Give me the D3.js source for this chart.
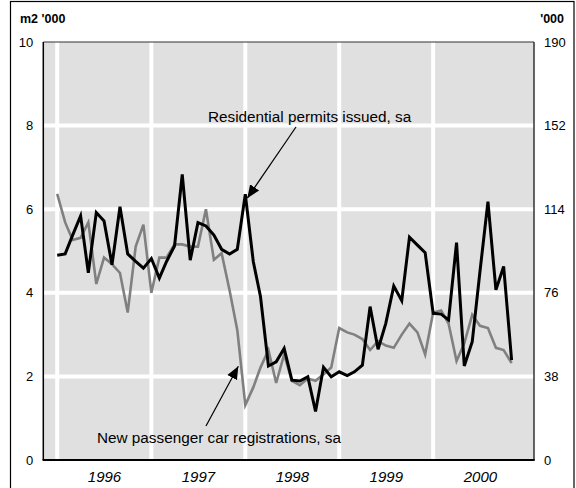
<!DOCTYPE html>
<html>
<head>
<meta charset="utf-8">
<script src="https://cdn.jsdelivr.net/npm/d3@7"></script>
<style>
  html, body { margin: 0; padding: 0; background: #fff; }
  svg { display: block; font-family: "Liberation Sans", Arial, sans-serif; }
</style>
</head>
<body>
<svg id="chart" width="576" height="488"></svg>
<script>
// ---- data ----
const startYear = 1996;           // first observation: January 1996, monthly
const permits = [ // residential permits issued, sa (m2 '000), left axis
  4.90, 4.93, 5.38, 5.84, 4.48, 5.92, 5.72, 4.67, 6.06, 4.93, 4.75, 4.59,
  4.82, 4.35, 4.75, 5.12, 6.83, 4.78, 5.68, 5.60, 5.38, 5.04, 4.93, 5.04,
  6.36, 4.75, 3.91, 2.25, 2.35, 2.67, 1.91, 1.89, 1.99, 1.16, 2.22, 1.99,
  2.11, 2.02, 2.11, 2.27, 3.67, 2.65, 3.27, 4.16, 3.81, 5.33, 5.14, 4.96,
  3.51, 3.49, 3.35, 5.20, 2.25, 2.83, 4.51, 6.18, 4.07, 4.63, 2.39
];
const cars = [ // new passenger car registrations, sa ('000), right axis
  121, 108, 100, 101, 108, 80, 92, 89, 85, 67, 97, 107,
  76, 92, 92, 98, 98, 97, 97, 114, 91, 94, 77, 59,
  25, 33, 42, 50, 35, 48, 36, 34, 37, 36, 39, 42,
  60, 58, 57, 55, 50, 54, 52, 51, 57, 62, 58, 48,
  67, 68, 62, 45, 53, 66, 61, 60, 51, 50, 44
];
const leftTicks = [0, 2, 4, 6, 8, 10];
const rightTicks = [0, 38, 76, 114, 152, 190];
const years = [1996, 1997, 1998, 1999, 2000];
const leftTitle = "m2 '000";
const rightTitle = "'000";
const permitsLabel = "Residential permits issued, sa";
const carsLabel = "New passenger car registrations, sa";

// ---- layout ----
const svg = d3.select("#chart");
const L = 43.3, R = 534, T = 42, B = 460;
const font = "'Liberation Sans', Arial, sans-serif";

const dateOf = i => new Date(startYear, i, 1);
const x = d3.scaleTime()
  .domain([new Date(1995, 10, 8), new Date(2001, 0, 27)])
  .range([L, R]);
const yL = d3.scaleLinear().domain([0, 10]).range([B, T]);
const yR = d3.scaleLinear().domain([0, 190]).range([B, T]);

// outer frame
svg.append("rect").attr("x", 10.5).attr("y", 1.5).attr("width", 563.5).attr("height", 500)
  .attr("fill", "none").attr("stroke", "#000").attr("stroke-width", 1.2);

// plot background
svg.append("rect").attr("x", L).attr("y", T).attr("width", R - L).attr("height", B - T)
  .attr("fill", "#e0e0e0");

// gridlines
svg.append("g").selectAll("line").data(leftTicks.filter(d => d > 0 && d < 10)).join("line")
  .attr("x1", L).attr("x2", R).attr("y1", d => yL(d)).attr("y2", d => yL(d))
  .attr("stroke", "#fff").attr("stroke-width", 4);
svg.append("g").selectAll("line").data(years).join("line")
  .attr("x1", d => x(new Date(d, 0, 1))).attr("x2", d => x(new Date(d, 0, 1)))
  .attr("y1", T).attr("y2", B)
  .attr("stroke", "#fff").attr("stroke-width", 4);

// frame of plot
svg.append("line").attr("x1", L).attr("x2", R).attr("y1", T).attr("y2", T)
  .attr("stroke", "#333").attr("stroke-width", 1.2);
svg.append("line").attr("x1", R).attr("x2", R).attr("y1", T).attr("y2", B)
  .attr("stroke", "#333").attr("stroke-width", 1.5);
svg.append("line").attr("x1", L).attr("x2", L).attr("y1", T).attr("y2", B)
  .attr("stroke", "#000").attr("stroke-width", 1.5);
svg.append("line").attr("x1", L - 0.7).attr("x2", R + 0.7).attr("y1", B).attr("y2", B)
  .attr("stroke", "#000").attr("stroke-width", 2);

// lines
const lineL = d3.line().x((d, i) => x(dateOf(i))).y(d => yL(d));
const lineR = d3.line().x((d, i) => x(dateOf(i))).y(d => yR(d));
svg.append("path").datum(cars).attr("d", lineR)
  .attr("fill", "none").attr("stroke", "#808080").attr("stroke-width", 2.6)
  .attr("stroke-linejoin", "miter");
svg.append("path").datum(permits).attr("d", lineL)
  .attr("fill", "none").attr("stroke", "#000").attr("stroke-width", 3)
  .attr("stroke-linejoin", "miter");

// axes (labels only)
const axL = svg.append("g").attr("transform", `translate(${L},0)`)
  .call(d3.axisLeft(yL).tickValues(leftTicks).tickSize(0).tickPadding(10));
const axR = svg.append("g").attr("transform", `translate(${R},0)`)
  .call(d3.axisRight(yR).tickValues(rightTicks).tickSize(0).tickPadding(10));
const axB = svg.append("g").attr("transform", `translate(0,${B})`)
  .call(d3.axisBottom(x).tickValues(years.map(y => new Date(y, 6, 1)))
    .tickFormat(d3.timeFormat("%Y")).tickSize(0).tickPadding(11));
[axL, axR, axB].forEach(a => {
  a.select(".domain").remove();
  a.selectAll("text").attr("fill", "#000").style("font-family", font);
});
axL.selectAll("text").style("font-size", "13px");
axR.selectAll("text").style("font-size", "13px");
axB.selectAll("text").style("font-size", "15px").style("font-style", "italic");

// axis titles
svg.append("text").attr("x", 20).attr("y", 23).text(leftTitle)
  .style("font-family", font).style("font-size", "12.5px").style("font-weight", "bold");
svg.append("text").attr("x", 564).attr("y", 23).attr("text-anchor", "end").text(rightTitle)
  .style("font-family", font).style("font-size", "12.5px").style("font-weight", "bold");

// annotations
const defs = svg.append("defs");
defs.append("marker").attr("id", "arr").attr("viewBox", "0 0 10 10")
  .attr("refX", 10).attr("refY", 5).attr("markerWidth", 13).attr("markerHeight", 13)
  .attr("markerUnits", "userSpaceOnUse").attr("orient", "auto")
  .append("path").attr("d", "M0,0.8 L10,5 L0,9.2 Z").attr("fill", "#000");

// pointer targets derived from data
const iPeak = 24, iLow = 23;
const tipA = [x(dateOf(iPeak)) + 2, yL(permits[iPeak]) + 4];
const tipB = [x(dateOf(iLow)) + 1, yR(cars[iLow]) + 36];
svg.append("line").attr("x1", 296).attr("y1", 127).attr("x2", tipA[0]).attr("y2", tipA[1])
  .attr("stroke", "#000").attr("stroke-width", 1.2).attr("marker-end", "url(#arr)");
svg.append("line").attr("x1", 206).attr("y1", 426).attr("x2", tipB[0]).attr("y2", tipB[1])
  .attr("stroke", "#000").attr("stroke-width", 1.2).attr("marker-end", "url(#arr)");

svg.append("text").attr("x", 208).attr("y", 122).text(permitsLabel)
  .style("font-family", font).style("font-size", "15.3px");
svg.append("text").attr("x", 97).attr("y", 443).text(carsLabel)
  .style("font-family", font).style("font-size", "15.3px");
</script>
</body>
</html>
